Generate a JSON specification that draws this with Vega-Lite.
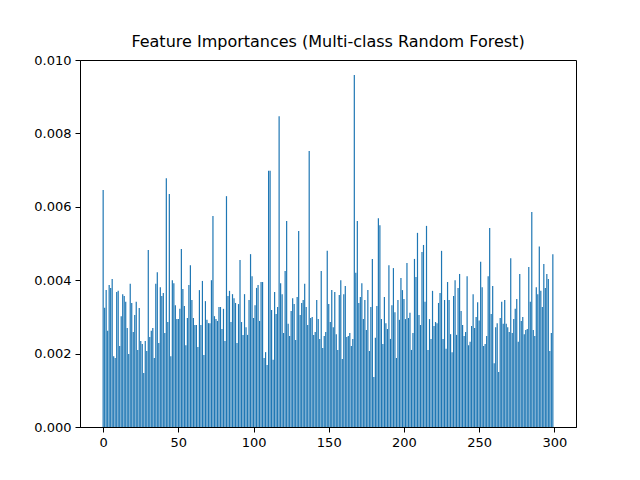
{
  "$schema": "https://vega.github.io/schema/vega-lite/v6.json",
  "width": 496,
  "height": 367,
  "autosize": "none",
  "padding": {"left": 80, "top": 60, "right": 64, "bottom": 53},
  "background": "white",
  "config": {
    "font": "DejaVu Sans",
    "view": {"stroke": "black", "strokeWidth": 1},
    "axis": {"grid": false, "domainColor": "black", "tickColor": "black", "labelColor": "black", "labelFontSize": 13, "tickSize": 5, "labelPadding": 4, "title": null}
  },
  "title": {"text": "Feature Importances (Multi-class Random Forest)", "fontSize": 16, "fontWeight": "normal", "color": "black", "offset": 4},
  "data": {"values": [
    {"i":0,"v":0.00646},{"i":1,"v":0.00325},{"i":2,"v":0.00373},{"i":3,"v":0.00262},{"i":4,"v":0.00387},{"i":5,"v":0.00379},{"i":6,"v":0.00403},{"i":7,"v":0.00193},{"i":8,"v":0.00188},{"i":9,"v":0.00368},
    {"i":10,"v":0.00371},{"i":11,"v":0.00221},{"i":12,"v":0.00302},{"i":13,"v":0.00362},{"i":14,"v":0.00357},{"i":15,"v":0.00341},{"i":16,"v":0.0027},{"i":17,"v":0.00199},{"i":18,"v":0.0039},{"i":19,"v":0.00338},
    {"i":20,"v":0.00259},{"i":21,"v":0.00305},{"i":22,"v":0.00341},{"i":23,"v":0.0021},{"i":24,"v":0.00324},{"i":25,"v":0.00234},{"i":26,"v":0.00226},{"i":27,"v":0.00147},{"i":28,"v":0.00234},{"i":29,"v":0.00207},
    {"i":30,"v":0.00482},{"i":31,"v":0.00245},{"i":32,"v":0.00262},{"i":33,"v":0.0027},{"i":34,"v":0.00188},{"i":35,"v":0.0039},{"i":36,"v":0.00422},{"i":37,"v":0.00229},{"i":38,"v":0.00381},{"i":39,"v":0.00357},
    {"i":40,"v":0.00365},{"i":41,"v":0.00256},{"i":42,"v":0.00678},{"i":43,"v":0.00286},{"i":44,"v":0.00635},{"i":45,"v":0.00193},{"i":46,"v":0.004},{"i":47,"v":0.00392},{"i":48,"v":0.00332},{"i":49,"v":0.00294},
    {"i":50,"v":0.00294},{"i":51,"v":0.00322},{"i":52,"v":0.00485},{"i":53,"v":0.00376},{"i":54,"v":0.0033},{"i":55,"v":0.00223},{"i":56,"v":0.00297},{"i":57,"v":0.00387},{"i":58,"v":0.00441},{"i":59,"v":0.00346},
    {"i":60,"v":0.00297},{"i":61,"v":0.00278},{"i":62,"v":0.00278},{"i":63,"v":0.00218},{"i":64,"v":0.00373},{"i":65,"v":0.00278},{"i":66,"v":0.00398},{"i":67,"v":0.00196},{"i":68,"v":0.00343},{"i":69,"v":0.00292},
    {"i":70,"v":0.00283},{"i":71,"v":0.00283},{"i":72,"v":0.004},{"i":73,"v":0.00575},{"i":74,"v":0.00302},{"i":75,"v":0.00294},{"i":76,"v":0.00289},{"i":77,"v":0.00327},{"i":78,"v":0.00327},{"i":79,"v":0.00267},
    {"i":80,"v":0.00322},{"i":81,"v":0.00234},{"i":82,"v":0.00629},{"i":83,"v":0.00357},{"i":84,"v":0.00371},{"i":85,"v":0.00286},{"i":86,"v":0.00362},{"i":87,"v":0.00351},{"i":88,"v":0.00338},{"i":89,"v":0.00229},
    {"i":90,"v":0.00335},{"i":91,"v":0.00455},{"i":92,"v":0.00286},{"i":93,"v":0.00251},{"i":94,"v":0.00362},{"i":95,"v":0.00272},{"i":96,"v":0.00251},{"i":97,"v":0.00346},{"i":98,"v":0.00471},{"i":99,"v":0.00411},
    {"i":100,"v":0.00297},{"i":101,"v":0.00332},{"i":102,"v":0.00379},{"i":103,"v":0.00387},{"i":104,"v":0.00289},{"i":105,"v":0.00395},{"i":106,"v":0.00395},{"i":107,"v":0.00188},{"i":108,"v":0.00204},{"i":109,"v":0.00169},
    {"i":110,"v":0.00698},{"i":111,"v":0.00698},{"i":112,"v":0.00319},{"i":113,"v":0.00183},{"i":114,"v":0.00368},{"i":115,"v":0.00308},{"i":116,"v":0.00327},{"i":117,"v":0.00847},{"i":118,"v":0.00392},{"i":119,"v":0.00362},
    {"i":120,"v":0.00256},{"i":121,"v":0.00425},{"i":122,"v":0.00561},{"i":123,"v":0.00281},{"i":124,"v":0.00248},{"i":125,"v":0.00316},{"i":126,"v":0.00351},{"i":127,"v":0.00335},{"i":128,"v":0.00237},{"i":129,"v":0.00354},
    {"i":130,"v":0.00534},{"i":131,"v":0.00305},{"i":132,"v":0.00338},{"i":133,"v":0.00346},{"i":134,"v":0.0039},{"i":135,"v":0.00327},{"i":136,"v":0.00278},{"i":137,"v":0.00752},{"i":138,"v":0.00297},{"i":139,"v":0.003},
    {"i":140,"v":0.00251},{"i":141,"v":0.00259},{"i":142,"v":0.00346},{"i":143,"v":0.00294},{"i":144,"v":0.0024},{"i":145,"v":0.00425},{"i":146,"v":0.00215},{"i":147,"v":0.00248},{"i":148,"v":0.00259},{"i":149,"v":0.0048},
    {"i":150,"v":0.00335},{"i":151,"v":0.00286},{"i":152,"v":0.00373},{"i":153,"v":0.00272},{"i":154,"v":0.00368},{"i":155,"v":0.00253},{"i":156,"v":0.0021},{"i":157,"v":0.0036},{"i":158,"v":0.004},{"i":159,"v":0.00185},
    {"i":160,"v":0.00362},{"i":161,"v":0.00384},{"i":162,"v":0.00245},{"i":163,"v":0.00248},{"i":164,"v":0.00256},{"i":165,"v":0.00221},{"i":166,"v":0.0024},{"i":167,"v":0.00959},{"i":168,"v":0.0042},{"i":169,"v":0.00561},
    {"i":170,"v":0.00338},{"i":171,"v":0.00354},{"i":172,"v":0.00392},{"i":173,"v":0.00294},{"i":174,"v":0.00346},{"i":175,"v":0.00264},{"i":176,"v":0.00373},{"i":177,"v":0.00207},{"i":178,"v":0.00327},{"i":179,"v":0.00458},
    {"i":180,"v":0.00136},{"i":181,"v":0.00243},{"i":182,"v":0.0033},{"i":183,"v":0.00569},{"i":184,"v":0.0055},{"i":185,"v":0.00294},{"i":186,"v":0.00226},{"i":187,"v":0.00354},{"i":188,"v":0.00283},{"i":189,"v":0.00267},
    {"i":190,"v":0.00441},{"i":191,"v":0.0024},{"i":192,"v":0.00332},{"i":193,"v":0.00433},{"i":194,"v":0.00313},{"i":195,"v":0.00188},{"i":196,"v":0.00346},{"i":197,"v":0.00292},{"i":198,"v":0.00406},{"i":199,"v":0.00373},
    {"i":200,"v":0.00349},{"i":201,"v":0.00294},{"i":202,"v":0.00447},{"i":203,"v":0.00297},{"i":204,"v":0.00311},{"i":205,"v":0.0021},{"i":206,"v":0.00256},{"i":207,"v":0.00458},{"i":208,"v":0.00409},{"i":209,"v":0.00529},
    {"i":210,"v":0.00305},{"i":211,"v":0.00278},{"i":212,"v":0.00477},{"i":213,"v":0.00496},{"i":214,"v":0.00341},{"i":215,"v":0.00548},{"i":216,"v":0.0021},{"i":217,"v":0.00294},{"i":218,"v":0.0024},{"i":219,"v":0.00371},
    {"i":220,"v":0.00275},{"i":221,"v":0.00286},{"i":222,"v":0.00283},{"i":223,"v":0.00338},{"i":224,"v":0.00365},{"i":225,"v":0.0048},{"i":226,"v":0.0024},{"i":227,"v":0.00346},{"i":228,"v":0.00213},{"i":229,"v":0.00395},
    {"i":230,"v":0.00346},{"i":231,"v":0.00253},{"i":232,"v":0.00204},{"i":233,"v":0.00357},{"i":234,"v":0.004},{"i":235,"v":0.00251},{"i":236,"v":0.00379},{"i":237,"v":0.00417},{"i":238,"v":0.00316},{"i":239,"v":0.00278},
    {"i":240,"v":0.00248},{"i":241,"v":0.00259},{"i":242,"v":0.00411},{"i":243,"v":0.00223},{"i":244,"v":0.00232},{"i":245,"v":0.00275},{"i":246,"v":0.00362},{"i":247,"v":0.0027},{"i":248,"v":0.003},{"i":249,"v":0.0034},
    {"i":250,"v":0.0029},{"i":251,"v":0.0045},{"i":252,"v":0.00381},{"i":253,"v":0.00221},{"i":254,"v":0.00226},{"i":255,"v":0.00248},{"i":256,"v":0.00411},{"i":257,"v":0.00542},{"i":258,"v":0.00308},{"i":259,"v":0.00384},
    {"i":260,"v":0.00174},{"i":261,"v":0.00272},{"i":262,"v":0.00283},{"i":263,"v":0.0015},{"i":264,"v":0.00297},{"i":265,"v":0.00341},{"i":266,"v":0.00281},{"i":267,"v":0.00346},{"i":268,"v":0.00281},{"i":269,"v":0.00272},
    {"i":270,"v":0.00259},{"i":271,"v":0.0046},{"i":272,"v":0.00256},{"i":273,"v":0.00294},{"i":274,"v":0.00322},{"i":275,"v":0.00349},{"i":276,"v":0.00232},{"i":277,"v":0.00417},{"i":278,"v":0.00289},{"i":279,"v":0.003},
    {"i":280,"v":0.00253},{"i":281,"v":0.00264},{"i":282,"v":0.00267},{"i":283,"v":0.00436},{"i":284,"v":0.00341},{"i":285,"v":0.00586},{"i":286,"v":0.00264},{"i":287,"v":0.00248},{"i":288,"v":0.00381},{"i":289,"v":0.00362},
    {"i":290,"v":0.00492},{"i":291,"v":0.00371},{"i":292,"v":0.00327},{"i":293,"v":0.00444},{"i":294,"v":0.00379},{"i":295,"v":0.00417},{"i":296,"v":0.00403},{"i":297,"v":0.00207},{"i":298,"v":0.00256},{"i":299,"v":0.00471}
  ]},
  "mark": {"type": "bar", "color": "#1f77b4", "size": 1.2, "orient": "vertical"},
  "encoding": {
    "x": {"field": "i", "type": "quantitative", "scale": {"domain": [-15.4, 314.4], "nice": false, "zero": false, "padding": 0}, "axis": {"values": [0, 50, 100, 150, 200, 250, 300], "format": "d"}},
    "y": {"field": "v", "type": "quantitative", "scale": {"domain": [0, 0.01], "nice": false}, "axis": {"values": [0, 0.002, 0.004, 0.006, 0.008, 0.01], "format": ".3f"}}
  }
}
